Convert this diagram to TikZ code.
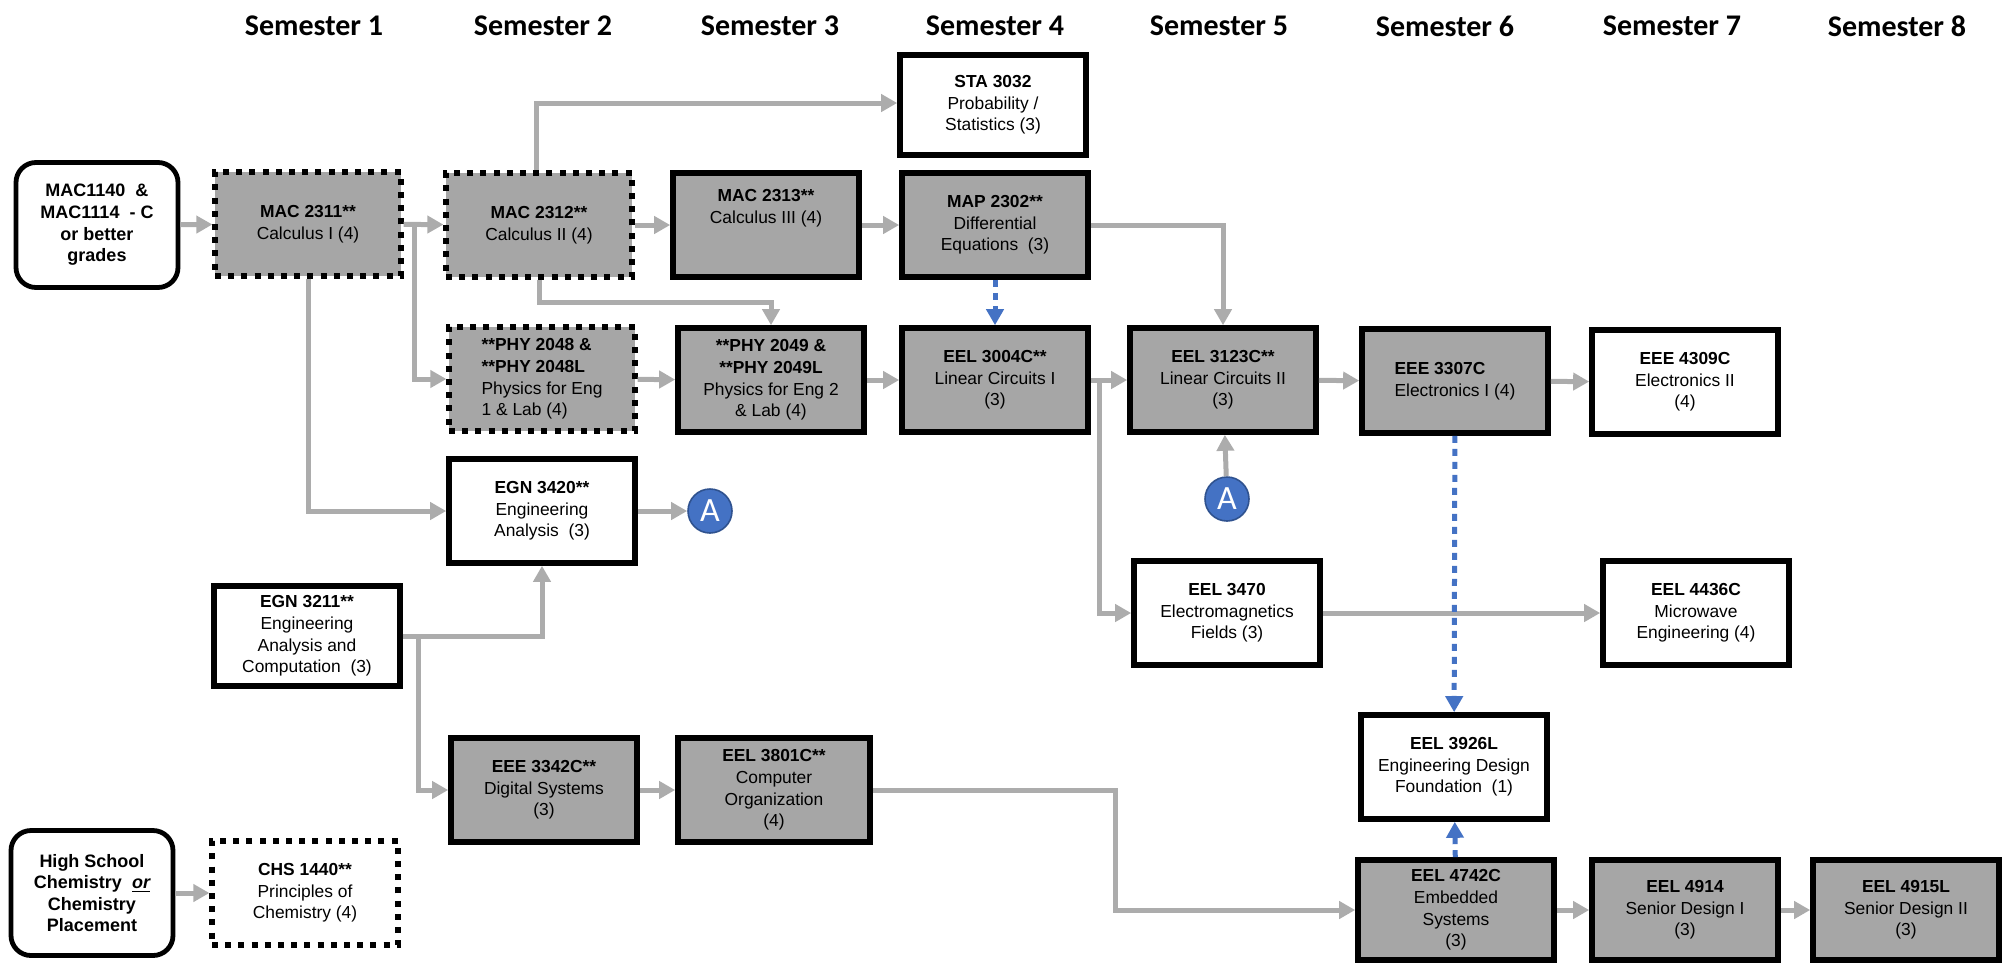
\documentclass[tikz,border=0pt]{standalone}
\usepackage{fontspec}
\setmainfont{Liberation Sans}
\newfontfamily\headfont{Carlito}
\usetikzlibrary{arrows.meta}
\definecolor{boxgray}{RGB}{166,166,166}
\definecolor{linegray}{RGB}{172,172,172}
\definecolor{reqblue}{RGB}{68,114,196}
\definecolor{reqbluedark}{RGB}{47,82,143}

\begin{document}
\begin{tikzpicture}[
  x=0.5pt, y=-0.5pt,
  >={Triangle[length=8pt,width=8.5pt]},
  semester/.style = {font=\headfont\bfseries\fontsize{15}{18}\selectfont},
  course/.style   = {
    draw, line width=2.8pt,
    align=center, inner sep=1pt,
    minimum width=\boxw, minimum height=\boxh,
    font=\fontsize{8.7}{10.8}\selectfont
  },
  core/.style     = {course, fill=boxgray},
  elective/.style = {course, fill=white},
  dotcore/.style  = {core, line width=2.6pt, dash pattern=on 3pt off 3.6pt},
  dotbox/.style   = {elective, line width=2.6pt, dash pattern=on 3pt off 3.6pt},
  entry/.style    = {
    draw, line width=2.4pt, rounded corners=10pt, fill=white,
    align=center, minimum width=81pt, minimum height=62.5pt,
    font=\bfseries\fontsize{9}{10.8}\selectfont
  },
  marker/.style   = {
    circle, draw=reqbluedark, line width=0.8pt, fill=reqblue,
    text=white, minimum size=22pt, inner sep=0pt,
    font=\headfont\fontsize{17}{17}\selectfont
  },
  flow/.style     = {->, draw=linegray, line width=2.5pt},
  coreq/.style    = {->, draw=reqblue, line width=2.5pt, dash pattern=on 3.5pt off 3pt}
]

% ---- constants ----
\def\boxw{93pt}      % course box width
\def\boxh{52pt}      % course box height

\useasboundingbox (0,0) rectangle (2007,965);

% ---- semester headers ----
\node[semester] (sem1) at (314,26)  {Semester 1};
\node[semester] (sem2) at (543,26)  {Semester 2};
\node[semester] (sem3) at (770,26)  {Semester 3};
\node[semester] (sem4) at (995,26)  {Semester 4};
\node[semester] (sem5) at (1219,26) {Semester 5};
\node[semester] (sem6) at (1445,26) {Semester 6};
\node[semester] (sem7) at (1672,26) {Semester 7};
\node[semester] (sem8) at (1897,26) {Semester 8};

% ---- entry requirements ----
\node[entry] (mathreq) at (97,225) {MAC1140~~\&\\MAC1114~~- C\\or better\\grades};
\node[entry] (chemreq) at (92,893) {High School\\Chemistry~~\textit{\underline{or}}\\Chemistry\\Placement};

% ---- courses ----
\node[elective] (sta3032) at (993,105) [minimum height=50pt] {\textbf{STA 3032}\\Probability /\\Statistics (3)};

\node[dotcore] (mac2311) at (308,224) {\textbf{MAC 2311**}\\Calculus I (4)};
\node[dotcore] (mac2312) at (539,225) {\textbf{MAC 2312**}\\Calculus II (4)};
\node[core]    (mac2313) at (766,225) {\textbf{MAC 2313**}\\Calculus III (4)\\[8pt]};
\node[core]    (map2302) at (995,225) {\textbf{MAP 2302**}\\Differential\\Equations~~(3)};

\node[dotcore, align=left] (phy2048) at (542,379) {\textbf{**PHY 2048 \&}\\\textbf{**PHY 2048L}\\Physics for Eng\\1 \& Lab (4)};
\node[core]    (phy2049) at (771,380) {\textbf{**PHY 2049 \&}\\\textbf{**PHY 2049L}\\Physics for Eng 2\\\& Lab (4)};
\node[core]    (eel3004c) at (995,380) {\textbf{EEL 3004C**}\\Linear Circuits I\\(3)};
\node[core]    (eel3123c) at (1223,380) {\textbf{EEL 3123C**}\\Linear Circuits II\\(3)};
\node[core, align=left] (eee3307c) at (1455,381) {\textbf{EEE 3307C}\\Electronics I (4)};
\node[elective] (eee4309c) at (1685,382) {\textbf{EEE 4309C}\\Electronics II\\(4)};

\node[elective] (egn3420) at (542,511) {\textbf{EGN 3420**}\\Engineering\\Analysis~~(3)};
\node[marker]   (a1) at (710,511) {A};
\node[marker]   (a2) at (1227,499) {A};

\node[elective] (egn3211) at (307,636) [minimum height=50pt] {\textbf{EGN 3211**}\\Engineering\\Analysis and\\Computation~~(3)};
\node[elective] (eel3470) at (1227,613) {\textbf{EEL 3470}\\Electromagnetics\\Fields (3)};
\node[elective] (eel4436c) at (1696,613) {\textbf{EEL 4436C}\\Microwave\\Engineering (4)};
\node[elective] (eel3926l) at (1454,767) {\textbf{EEL 3926L}\\Engineering Design\\Foundation~~(1)};

\node[core]    (eee3342c) at (544,790) {\textbf{EEE 3342C**}\\Digital Systems\\(3)};
\node[core]    (eel3801c) at (774,790) [minimum width=96pt] {\textbf{EEL 3801C**}\\Computer\\Organization\\(4)};
\node[dotbox]  (chs1440) at (305,893) {\textbf{CHS 1440**}\\Principles of\\Chemistry (4)};

\node[core]    (eel4742c) at (1456,910) [minimum width=98pt, minimum height=50pt] {\textbf{EEL 4742C}\\Embedded\\Systems\\(3)};
\node[core]    (eel4914) at (1685,910) [minimum height=50pt] {\textbf{EEL 4914}\\Senior Design I\\(3)};
\node[core]    (eel4915l) at (1906,910) [minimum height=50pt] {\textbf{EEL 4915L}\\Senior Design II\\(3)};

% ---- prerequisite arrows ----
\draw[flow] (mathreq) -- (mac2311);
\draw[flow] (mac2311) -- (mac2312);
\draw[flow] (mac2311.east) -- ++(11,0) |- (phy2048.west);
\draw[flow] (mac2312) -- (mac2313);
\draw[flow] (mac2313) -- (map2302);
\draw[flow] ([xshift=-1.5pt]mac2312.north) |- ([yshift=1pt]sta3032.west);
\draw[flow] (mac2312.south) -- ++(0,23) -| (phy2049.north);
\draw[flow] (mac2311.south) |- (egn3420.west);
\draw[flow] (egn3420) -- (a1);

\draw[flow] (phy2048) -- (phy2049);
\draw[flow] (phy2049) -- (eel3004c);
\draw[flow] (eel3004c) -- (eel3123c);
\draw[flow] (eel3004c.east) -- ++(9,0) |- (eel3470.west);
\draw[flow] (map2302.east) -| (eel3123c.north);
\draw[flow] (a2) -- (eel3123c);
\draw[flow] (eel3123c) -- (eee3307c);
\draw[flow] (eee3307c) -- (eee4309c);
\draw[flow] (eel3470) -- (eel4436c);

\draw[flow] (egn3211.east) -| (egn3420.south);
\draw[flow] (egn3211.east) -- ++(16,0) |- (eee3342c.west);
\draw[flow] (eee3342c) -- (eel3801c);
\draw[flow] (eel3801c.east) -- ++(243,0) |- (eel4742c.west);
\draw[flow] (eel4742c) -- (eel4914);
\draw[flow] (eel4914) -- (eel4915l);
\draw[flow] (chemreq) -- (chs1440);

% ---- co-requisites (blue) ----
\draw[coreq] (map2302) -- (eel3004c);
\draw[coreq] (eee3307c) -- (eel3926l);
\draw[coreq] (eel4742c) -- (eel3926l);

\end{tikzpicture}
\end{document}
